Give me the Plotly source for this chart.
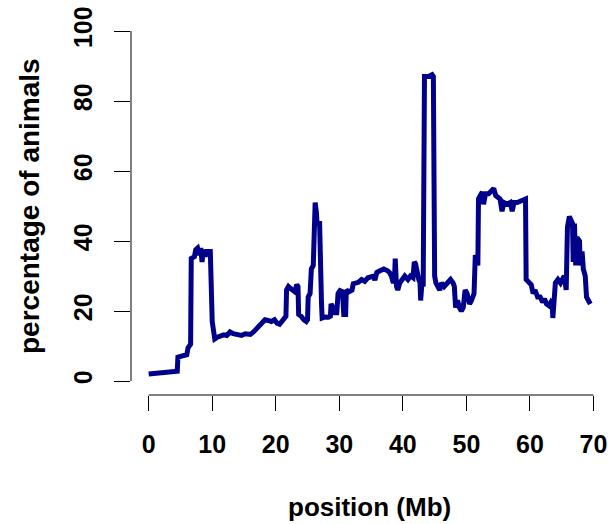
import plotly.graph_objects as go

# position (Mb) and percentage of animals
position = [0, 1.5, 3, 4.5, 4.6, 5.5, 6.0, 6.2, 6.6, 6.7, 7.2, 7.4, 7.7, 8.0, 8.2, 8.4, 8.6, 8.9, 9.1, 9.7,
            9.8, 10.0, 10.2, 10.4, 10.8, 11.3, 11.8, 12.3, 12.8, 13.3, 14.0, 14.6, 15.2, 16.0, 16.5, 17.0,
            17.5, 18.0, 18.3, 18.8, 19.3, 19.8, 20.2, 20.6, 21.0, 21.4, 21.6, 21.7, 22.0, 22.3, 22.6, 23.0,
            23.3, 23.5, 23.6, 24.0, 24.4, 24.8, 25.0, 25.1, 25.4, 25.6, 25.9, 26.0, 26.2, 26.4, 26.5, 26.9,
            27.0, 27.2, 27.3, 27.8, 28.3, 28.6, 28.7, 29.0, 29.2, 29.6, 29.8, 30.1, 30.5, 30.7, 31.0, 31.1,
            31.5, 32.0, 32.2, 32.6, 33.0, 33.5, 34.0, 34.5, 35.0, 35.4, 35.6, 35.9, 36.4, 37.0, 37.6, 37.9,
            38.2, 38.5, 38.7, 38.8, 39.0, 39.2, 39.5, 40.0, 40.3, 40.8, 41.2, 41.6, 41.8, 42.0, 42.2, 42.5,
            42.7, 42.8, 43.0, 43.2, 43.3, 43.4, 44.0, 44.6, 44.8, 44.9, 45.0, 45.2, 45.5, 45.8, 46.1, 46.5,
            47.0, 47.5, 47.9, 48.1, 48.3, 48.6, 48.9, 49.2, 49.5, 49.8, 50.1, 50.5, 50.8, 51.2, 51.4, 51.6,
            51.8, 51.9, 52.2, 52.5, 52.7, 53.0, 53.5, 54.0, 54.3, 54.6, 55.0, 55.3, 55.6, 55.9, 56.4, 56.9,
            57.2, 57.5, 58.0, 58.5, 59.0, 59.3, 59.4, 59.8, 60.2, 60.5, 60.8, 61.2, 61.6, 62.0, 62.3, 62.6,
            63.0, 63.3, 63.5, 63.6, 63.8, 64.0, 64.4, 64.8, 65.1, 65.4, 65.7, 65.9, 66.2, 66.5, 66.7, 66.8,
            67.0, 67.2, 67.4, 67.8, 67.9, 68.2, 68.4, 68.7, 68.9, 69.2, 69.5]
percentage = [2.0, 2.2, 2.4, 2.8, 6.8, 7.2, 7.5, 9.5, 10.5, 35.0, 35.5, 37.5, 38.0, 36.0, 38.0, 34.0, 37.5, 35.5, 37.0, 37.0,
              20.0, 17.0, 14.5, 12.0, 12.5, 13.0, 13.2, 13.0, 14.0, 13.5, 13.3, 13.0, 13.5, 13.3, 14.0, 15.0,
              16.0, 16.5, 17.5, 17.3, 17.0, 17.5, 16.5, 16.2, 17.0, 18.0, 18.5, 26.0, 27.0, 26.5, 26.0, 25.5,
              27.5, 27.0, 19.0, 18.5, 17.5, 17.0, 17.5, 24.0, 25.0, 32.0, 33.0, 50.0, 51.0, 48.0, 45.0, 45.0,
              25.0, 22.0, 18.0, 18.3, 18.2, 18.5, 22.0, 21.0, 19.5, 19.5, 25.0, 25.8, 25.5, 19.0, 19.0, 26.0,
              25.5, 26.0, 27.8, 28.0, 28.2, 29.0, 28.5, 29.5, 30.0, 30.0, 28.8, 31.0, 31.5, 32.0, 31.5, 31.0,
              30.0, 28.0, 30.0, 35.0, 27.0, 26.0, 28.0, 29.0, 30.0, 29.0, 30.0, 29.5, 34.0, 33.5, 31.0, 29.0,
              28.0, 23.0, 28.0, 27.0, 57.0, 87.0, 87.0, 87.5, 87.0, 45.0, 30.0, 28.0, 27.0, 26.0, 28.0, 27.0,
              28.0, 29.0, 28.0, 27.0, 21.0, 23.0, 21.0, 20.0, 21.0, 26.0, 25.0, 22.0, 23.0, 25.0, 36.0, 34.0,
              33.0, 52.0, 53.5, 54.0, 50.5, 53.5, 53.5, 54.5, 55.0, 53.0, 52.5, 52.0, 48.5, 51.0, 50.5, 51.0,
              48.5, 51.0, 51.0, 51.5, 52.0, 52.0, 29.0, 28.0, 27.5, 25.0, 26.0, 24.0, 24.0, 22.5, 23.5, 22.0,
              21.5, 22.5, 22.0, 18.0, 24.0, 28.0, 29.0, 28.0, 29.0, 30.0, 26.0, 44.0, 47.0, 46.0, 45.0, 34.0,
              45.0, 33.0, 41.0, 40.0, 33.0, 37.0, 32.0, 30.0, 24.0, 23.0, 22.0]

x_ticks = [0, 10, 20, 30, 40, 50, 60, 70]
y_ticks = [0, 20, 40, 60, 80, 100]
x_title = "position (Mb)"
y_title = "percentage of animals"

FONT = "Liberation Sans, Arial, Helvetica, sans-serif"

fig = go.Figure()
fig.add_trace(go.Scatter(x=position, y=percentage, mode="lines",
                         line=dict(color="#00008B", width=5), hoverinfo="skip"))

fig.update_layout(
    width=608, height=524,
    margin=dict(l=131, r=0, t=17, b=129, autoexpand=False),
    paper_bgcolor="white", plot_bgcolor="white",
    showlegend=False,
    font=dict(family=FONT, color="black"),
    xaxis=dict(range=[-2.78, 72.28], tickvals=x_ticks, ticktext=[str(v) for v in x_ticks],
               showgrid=False, zeroline=False, showline=False, automargin=False,
               ticks="outside", ticklen=15, tickwidth=1, tickcolor="black",
               ticklabelstandoff=12, ticklabeloverflow="allow",
               tickfont=dict(family=FONT, size=25, weight="bold", color="black")),
    yaxis=dict(range=[-4, 104], tickvals=y_ticks, ticktext=[str(v) for v in y_ticks],
               showgrid=False, zeroline=False, showline=False, automargin=False,
               ticks="outside", ticklen=16, tickwidth=1, tickcolor="black",
               tickangle=-90, ticklabelstandoff=12, ticklabeloverflow="allow",
               tickfont=dict(family=FONT, size=25, weight="bold", color="black")),
)

# R-style axis lines spanning only the tick range
fig.add_shape(type="line", xref="paper", yref="y", x0=0, x1=0, y0=y_ticks[0], y1=y_ticks[-1],
              line=dict(color="black", width=1))
fig.add_shape(type="line", xref="x", yref="paper", x0=x_ticks[0], x1=x_ticks[-1], y0=0, y1=0,
              line=dict(color="black", width=1))

fig.add_annotation(text=x_title, xref="x", yref="paper", x=34.75, y=0, yshift=-112,
                   xanchor="center", yanchor="middle", showarrow=False,
                   font=dict(family=FONT, size=26, weight="bold", color="black"))
fig.add_annotation(text=y_title, xref="paper", yref="y", x=0, y=50, xshift=-102,
                   xanchor="center", yanchor="middle", textangle=-90, showarrow=False,
                   font=dict(family=FONT, size=28, weight="bold", color="black"))

# remove the default page margin so the figure fills the window exactly
fig.write_html("out.html", config={"displayModeBar": False},
               post_script="document.body.style.margin='0px';document.body.style.overflow='hidden';")
